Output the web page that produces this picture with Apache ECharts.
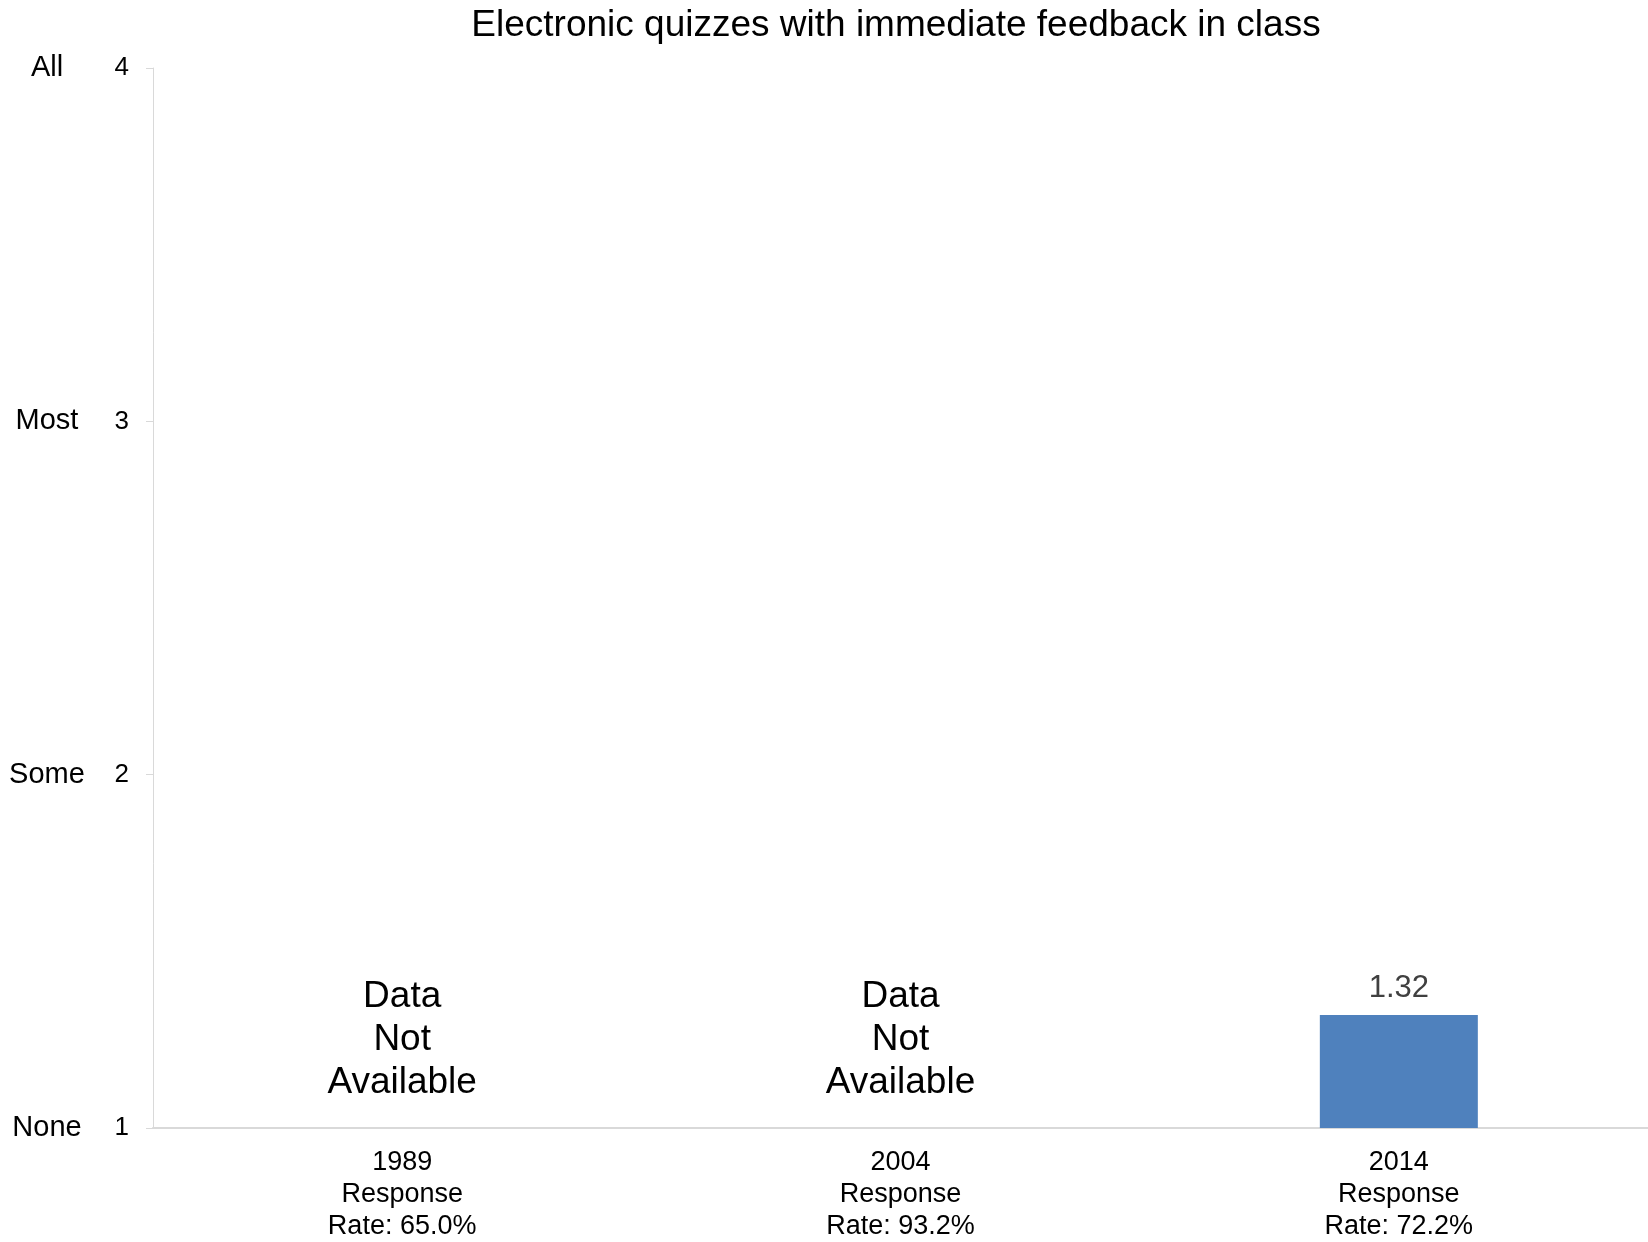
<!DOCTYPE html>
<html>
<head>
<meta charset="utf-8">
<script src="https://cdn.jsdelivr.net/npm/echarts@6/dist/echarts.min.js"></script>
<style>
  html, body { margin: 0; padding: 0; background: #ffffff; }
  #chart { width: 1648px; height: 1242px; }
</style>
</head>
<body>
<div id="chart"></div>
<script>
// ---- data ----
const title = 'Electronic quizzes with immediate feedback in class';
const years = ['1989', '2004', '2014'];
const responseRates = ['65.0%', '93.2%', '72.2%'];
const values = [null, null, 1.32];          // null = data not available
const yTickValues = [1, 2, 3, 4];
const yTickNames = ['None', 'Some', 'Most', 'All'];
const notAvailableText = 'Data\nNot\nAvailable';

// ---- derived ----
const categories = years.map((y, i) => y + '\nResponse\nRate: ' + responseRates[i]);
const yMin = yTickValues[0];
const yMax = yTickValues[yTickValues.length - 1];
const barData = values.map(v => (v === null ? '-' : v));
const naData = values.map(v => (v === null ? yMin : '-'));

const FONT = '"Liberation Sans", Arial, sans-serif';

const chart = echarts.init(document.getElementById('chart'), null, { renderer: 'canvas' });
chart.setOption({
  backgroundColor: '#ffffff',
  animation: false,
  title: {
    text: title,
    left: 896,
    textAlign: 'center',
    top: 7,
    padding: 0,
    textStyle: { fontFamily: FONT, fontSize: 37, fontWeight: 'normal', color: '#000000' }
  },
  grid: { left: 153, right: 0, top: 68, bottom: 114, containLabel: false, outerBoundsMode: 'none' },
  xAxis: {
    type: 'category',
    data: categories,
    boundaryGap: true,
    axisLine: { show: true, lineStyle: { color: '#d9d9d9', width: 2 } },
    axisTick: { show: false },
    axisLabel: {
      fontFamily: FONT, fontSize: 27, lineHeight: 32, color: '#000000',
      margin: 19, interval: 0
    },
    splitLine: { show: false }
  },
  yAxis: [
    {
      type: 'value',
      min: yMin, max: yMax, interval: 1,
      axisLine: { show: true, lineStyle: { color: '#d9d9d9', width: 1 } },
      axisTick: { show: true, inside: false, length: 7, lineStyle: { color: '#d9d9d9' } },
      axisLabel: { fontFamily: FONT, fontSize: 26, color: '#000000', margin: 24 },
      splitLine: { show: false }
    },
    {
      type: 'value',
      position: 'left',
      min: yMin, max: yMax, interval: 1,
      axisLine: { show: false },
      axisTick: { show: false },
      splitLine: { show: false },
      axisLabel: {
        fontFamily: FONT, fontSize: 29, color: '#000000', margin: 106, align: 'center',
        formatter: v => {
          const idx = yTickValues.indexOf(v);
          return idx >= 0 ? yTickNames[idx] : '';
        }
      }
    }
  ],
  series: [
    {
      type: 'bar',
      data: barData,
      barWidth: 158,
      barGap: '-100%',
      itemStyle: { color: '#4f81bd' },
      label: {
        show: true, position: 'top', distance: 11,
        fontFamily: FONT, fontSize: 31, color: '#404040',
        formatter: p => Number(p.value).toFixed(2)
      }
    },
    {
      type: 'bar',
      data: naData,
      barWidth: 158,
      barGap: '-100%',
      itemStyle: { color: 'rgba(0,0,0,0)' },
      label: {
        show: true, position: 'top', distance: 24,
        fontFamily: FONT, fontSize: 37, lineHeight: 43, color: '#000000',
        formatter: () => notAvailableText
      }
    }
  ]
});
</script>
</body>
</html>
